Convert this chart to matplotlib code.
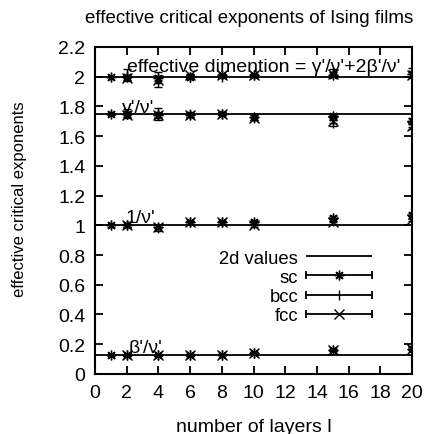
import numpy as np
import matplotlib
matplotlib.use("Agg")
import matplotlib.pyplot as plt
from matplotlib.lines import Line2D
from matplotlib.legend_handler import HandlerBase
from matplotlib.container import ErrorbarContainer

plt.rcParams['font.family'] = ['Liberation Sans', 'DejaVu Sans']
plt.rcParams['font.size'] = 13

# film thickness (number of layers)
L_sc = [1, 2, 4, 6, 8, 10, 15, 20]
L_bcc = [2, 4, 6, 8, 10, 15, 20]
L_fcc = [2, 4, 6, 8, 10, 15, 20]

# exact 2d Ising values
exact_2d = [2.0, 1.75, 1.0, 0.125]

# effective dimension  gamma'/nu' + 2 beta'/nu'
sc_dim = [2.00, 2.00, 1.99, 2.00, 2.01, 2.01, 2.01, 2.02]
sc_dim_err = [0.005, 0.01, 0.01, 0.01, 0.01, 0.01, 0.01, 0.02]
bcc_dim = [2.01, 1.98, 2.00, 2.00, 2.01, 2.03, 2.04]
bcc_dim_err = [0.04, 0.05, 0.01, 0.01, 0.01, 0.02, 0.02]
fcc_dim = [1.99, 1.98, 2.01, 2.01, 2.01, 2.02, 2.01]
fcc_dim_err = [0.01, 0.02, 0.01, 0.01, 0.01, 0.01, 0.02]

# gamma'/nu'
sc_gam = [1.75, 1.75, 1.74, 1.74, 1.75, 1.73, 1.735, 1.70]
sc_gam_err = [0.005, 0.01, 0.01, 0.01, 0.01, 0.01, 0.01, 0.02]
bcc_gam = [1.75, 1.75, 1.75, 1.75, 1.72, 1.69, 1.68]
bcc_gam_err = [0.03, 0.04, 0.01, 0.01, 0.01, 0.02, 0.02]
fcc_gam = [1.74, 1.74, 1.74, 1.75, 1.72, 1.70, 1.67]
fcc_gam_err = [0.01, 0.02, 0.01, 0.01, 0.01, 0.01, 0.02]

# 1/nu'
sc_nu = [1.00, 1.00, 0.99, 1.02, 1.02, 1.02, 1.05, 1.07]
sc_nu_err = [0.01, 0.01, 0.01, 0.01, 0.01, 0.01, 0.01, 0.01]
bcc_nu = [1.00, 0.98, 1.02, 1.02, 1.01, 1.03, 1.05]
bcc_nu_err = [0.01, 0.02, 0.01, 0.01, 0.01, 0.01, 0.01]
fcc_nu = [1.00, 0.99, 1.02, 1.02, 1.00, 1.02, 1.04]
fcc_nu_err = [0.01, 0.01, 0.01, 0.01, 0.01, 0.01, 0.01]

# beta'/nu'
sc_beta = [0.125, 0.125, 0.125, 0.127, 0.13, 0.14, 0.16, 0.17]
sc_beta_err = [0.003, 0.005, 0.005, 0.005, 0.005, 0.005, 0.005, 0.01]
bcc_beta = [0.125, 0.126, 0.127, 0.13, 0.14, 0.16, 0.175]
bcc_beta_err = [0.005, 0.005, 0.005, 0.005, 0.005, 0.005, 0.01]
fcc_beta = [0.125, 0.125, 0.127, 0.13, 0.14, 0.16, 0.17]
fcc_beta_err = [0.005, 0.005, 0.005, 0.005, 0.005, 0.005, 0.01]


class HandlerHBar(HandlerBase):
    """gnuplot-style key entry: horizontal bar with end caps and the point in the middle"""
    def create_artists(self, legend, orig_handle, xdescent, ydescent,
                       width, height, fontsize, trans):
        y = height / 2 - ydescent
        x0, x1 = -xdescent, width - xdescent
        data_line = orig_handle.lines[0]
        bar = Line2D([x0, x1], [y, y], color='k', lw=1.3)
        caps = Line2D([x0, x1], [y, y], ls='none', marker='|', ms=6,
                      mew=1.3, color='k')
        pt = Line2D([(x0 + x1) / 2], [y], ls='none',
                    marker=data_line.get_marker(), ms=data_line.get_markersize(),
                    mew=data_line.get_markeredgewidth(), color='k')
        for a in (bar, caps, pt):
            a.set_transform(trans)
        return [bar, caps, pt]


fig = plt.figure(figsize=(4.24, 4.35), dpi=100)
ax = fig.add_axes([0.224, 0.138, 0.748, 0.752])

line2d = ax.hlines(exact_2d, 0, 20, color='k', lw=1.3, label='2d values')

series = [
    ('sc', L_sc, (8, 2, 0), [(sc_dim, sc_dim_err), (sc_gam, sc_gam_err),
                             (sc_nu, sc_nu_err), (sc_beta, sc_beta_err)]),
    ('bcc', L_bcc, '|', [(bcc_dim, bcc_dim_err), (bcc_gam, bcc_gam_err),
                         (bcc_nu, bcc_nu_err), (bcc_beta, bcc_beta_err)]),
    ('fcc', L_fcc, 'x', [(fcc_dim, fcc_dim_err), (fcc_gam, fcc_gam_err),
                         (fcc_nu, fcc_nu_err), (fcc_beta, fcc_beta_err)]),
]

handles = [line2d]
for name, L, mk, curves in series:
    for i, (vals, errs) in enumerate(curves):
        eb = ax.errorbar(L, vals, yerr=errs, marker=mk, ls='none',
                         color='k', ms=7, mew=1.0, elinewidth=1.0,
                         capsize=3, capthick=1.0,
                         label=name if i == 0 else None)
        if i == 0:
            handles.append(eb)

# curve labels
ax.text(2.0, 2.04, "effective dimention = γ'/ν'+2β'/ν'", ha='left',
        va='baseline', fontsize=14)
ax.text(1.7, 1.76, "γ'/ν'", ha='left', va='baseline', fontsize=14)
ax.text(1.9, 1.02, "1/ν'", ha='left', va='baseline', fontsize=14)
ax.text(2.1, 0.15, "β'/ν'", ha='left', va='baseline', fontsize=14)

ax.set_xlim(0, 20)
ax.set_ylim(0, 2.2)
ax.set_xticks(np.arange(0, 21, 2))
ax.set_yticks(np.arange(0, 2.21, 0.2))
ax.set_yticklabels(['0', '0.2', '0.4', '0.6', '0.8', '1', '1.2', '1.4',
                    '1.6', '1.8', '2', '2.2'])
ax.tick_params(direction='in', length=6, width=1.3, top=True, right=True,
               pad=7, labelsize=14)
for sp in ax.spines.values():
    sp.set_linewidth(1.5)

ax.set_xlabel('number of layers l', fontsize=14)
ax.xaxis.set_label_coords(0.5, -0.162)
ax.xaxis.label.set_va('center')
ax.set_ylabel('effective critical exponents', fontsize=12)
ax.yaxis.set_label_coords(-0.237, 0.538)
ax.yaxis.label.set_va('center')
ax.set_title('effective critical exponents of Ising films', fontsize=13.5,
             x=0.486, y=1.089, pad=0, va='center')

ax.legend(handles=handles, labels=['2d values', 'sc', 'bcc', 'fcc'],
          handler_map={ErrorbarContainer: HandlerHBar()},
          loc='center right', bbox_to_anchor=(0.874, 0.266),
          frameon=False, markerfirst=False, borderpad=0, borderaxespad=0,
          handlelength=3.6, handletextpad=0.4, labelspacing=0.12,
          fontsize=13.3)

fig.savefig('out.png', dpi=100)
